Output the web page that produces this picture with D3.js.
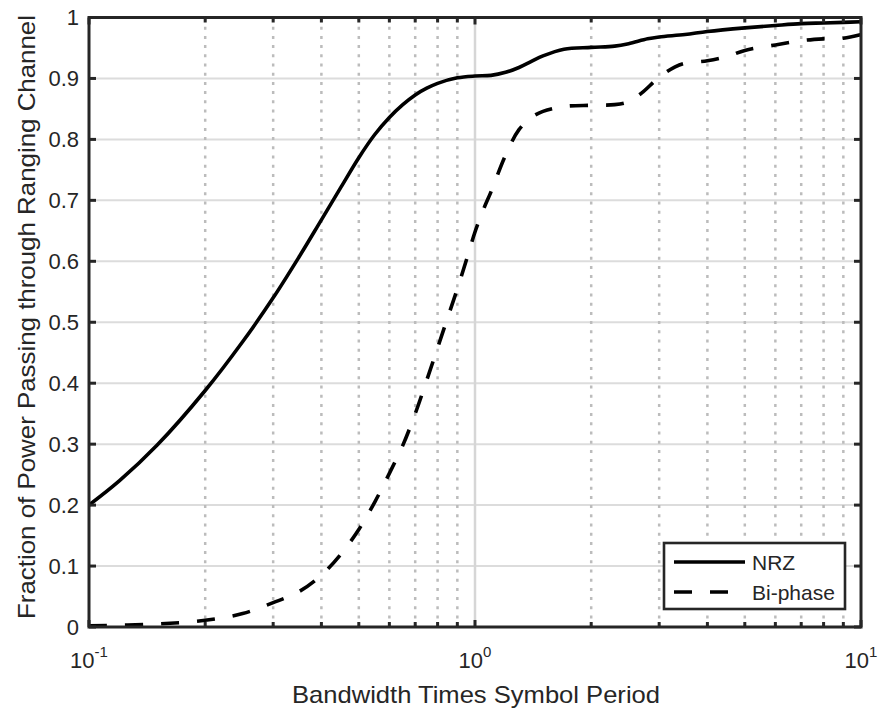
<!DOCTYPE html>
<html>
<head>
<meta charset="utf-8">
<script src="https://cdn.jsdelivr.net/npm/d3@7"></script>
<style>
  html, body { margin: 0; padding: 0; background: #fff; }
  svg { display: block; font-family: "Liberation Sans", Arial, Helvetica, sans-serif; }
</style>
</head>
<body>
<svg id="chart" width="881" height="711"></svg>
<script>
// Bandwidth-time product (B·T) sample points and power fractions
const nrzBT = [0.1, 0.12, 0.15, 0.2, 0.25, 0.3, 0.35, 0.4, 0.45, 0.5, 0.55, 0.6, 0.65, 0.7, 0.75, 0.8, 0.9, 1.0,
               1.1, 1.2, 1.3, 1.4, 1.5, 1.7, 2.0, 2.3, 2.5, 2.8, 3.0, 3.5, 4, 5, 6, 7, 8, 9, 10];
const nrzFrac = [0.200, 0.240, 0.298, 0.388, 0.468, 0.540, 0.607, 0.668, 0.722, 0.770, 0.808, 0.836, 0.857, 0.873, 0.884, 0.892, 0.901, 0.904,
                 0.905, 0.910, 0.918, 0.928, 0.937, 0.948, 0.951, 0.953, 0.957, 0.965, 0.968, 0.972, 0.977, 0.983, 0.987, 0.990, 0.991, 0.992, 0.993];

const biBT = [0.1, 0.15, 0.2, 0.25, 0.3, 0.35, 0.4, 0.45, 0.5, 0.55, 0.6, 0.65, 0.7, 0.75, 0.8, 0.85, 0.9, 0.95, 1.0,
              1.05, 1.1, 1.2, 1.3, 1.4, 1.5, 1.7, 2.0, 2.3, 2.5, 2.7, 3.0, 3.3, 3.5, 4, 4.5, 5, 6, 7, 8, 9, 10];
const biFrac = [0.002, 0.005, 0.011, 0.022, 0.040, 0.058, 0.085, 0.120, 0.160, 0.205, 0.252, 0.298, 0.350, 0.405, 0.458, 0.508, 0.555, 0.602, 0.648,
                0.684, 0.714, 0.774, 0.816, 0.836, 0.846, 0.854, 0.856, 0.857, 0.862, 0.876, 0.902, 0.919, 0.925, 0.929, 0.936, 0.946, 0.955, 0.962, 0.965, 0.966, 0.972];

const yTicks = [0, 0.1, 0.2, 0.3, 0.4, 0.5, 0.6, 0.7, 0.8, 0.9, 1];
const yTickLabels = ["0", "0.1", "0.2", "0.3", "0.4", "0.5", "0.6", "0.7", "0.8", "0.9", "1"];
const xMajorTicks = [0.1, 1, 10];
const xMajorExponents = ["-1", "0", "1"];
const xMinorTicks = [0.2, 0.3, 0.4, 0.5, 0.6, 0.7, 0.8, 0.9, 2, 3, 4, 5, 6, 7, 8, 9];

const seriesNames = ["NRZ", "Bi-phase"];
const xTitle = "Bandwidth Times Symbol Period";
const yTitle = "Fraction of Power Passing through Ranging Channel";

// Layout
const plot = { left: 89, right: 861, top: 17.5, bottom: 627 };
const axisColor = "#262626";

const svg = d3.select("#chart");

const x = d3.scaleLog().domain([0.1, 10]).range([plot.left, plot.right]);
const y = d3.scaleLinear().domain([0, 1]).range([plot.bottom, plot.top]);

svg.append("rect").attr("x", 0).attr("y", 0).attr("width", 881).attr("height", 711).attr("fill", "#fff");

// Grid: solid major lines, dotted minor lines on the log axis
const grid = svg.append("g");
grid.selectAll("line.hgrid").data(yTicks.slice(1, -1)).join("line")
  .attr("x1", plot.left).attr("x2", plot.right)
  .attr("y1", d => y(d)).attr("y2", d => y(d))
  .attr("stroke", "#dcdcdc").attr("stroke-width", 2);
grid.selectAll("line.vminor").data(xMinorTicks).join("line")
  .attr("x1", d => x(d)).attr("x2", d => x(d))
  .attr("y1", plot.top).attr("y2", plot.bottom)
  .attr("stroke", "#bcbcbc").attr("stroke-width", 2.5)
  .attr("stroke-dasharray", "3,6.2");
grid.selectAll("line.vmajor").data([1]).join("line")
  .attr("x1", d => x(d)).attr("x2", d => x(d))
  .attr("y1", plot.top).attr("y2", plot.bottom)
  .attr("stroke", "#d6d6d6").attr("stroke-width", 2.5);

// Curves
svg.append("clipPath").attr("id", "plotClip").append("rect")
  .attr("x", plot.left).attr("y", plot.top)
  .attr("width", plot.right - plot.left).attr("height", plot.bottom - plot.top);

const line = d3.line().x(d => x(d[0])).y(d => y(d[1])).curve(d3.curveCatmullRom.alpha(0.5));
const curves = svg.append("g").attr("clip-path", "url(#plotClip)");
curves.append("path")
  .datum(nrzBT.map((b, i) => [b, nrzFrac[i]]))
  .attr("d", line).attr("fill", "none")
  .attr("stroke", "#000").attr("stroke-width", 3.6).attr("stroke-linejoin", "round");
curves.append("path")
  .datum(biBT.map((b, i) => [b, biFrac[i]]))
  .attr("d", line).attr("fill", "none")
  .attr("stroke", "#000").attr("stroke-width", 3.6)
  .attr("stroke-dasharray", "18,18");

// Axes box with inward ticks on all four sides
const axes = svg.append("g").attr("stroke", axisColor).attr("stroke-linecap", "butt");
const tickW = 3;
const yTickLen = 7, xMajLen = 7, xMinLen = 5;
yTicks.forEach(t => {
  axes.append("line").attr("x1", plot.left).attr("x2", plot.left + yTickLen)
    .attr("y1", y(t)).attr("y2", y(t)).attr("stroke-width", tickW);
  axes.append("line").attr("x1", plot.right).attr("x2", plot.right - yTickLen)
    .attr("y1", y(t)).attr("y2", y(t)).attr("stroke-width", tickW);
});
xMajorTicks.concat(xMinorTicks).forEach(t => {
  const len = xMajorTicks.includes(t) ? xMajLen : xMinLen;
  axes.append("line").attr("x1", x(t)).attr("x2", x(t))
    .attr("y1", plot.bottom).attr("y2", plot.bottom - len).attr("stroke-width", tickW);
  axes.append("line").attr("x1", x(t)).attr("x2", x(t))
    .attr("y1", plot.top).attr("y2", plot.top + len).attr("stroke-width", tickW);
});
axes.append("rect")
  .attr("x", plot.left).attr("y", plot.top)
  .attr("width", plot.right - plot.left).attr("height", plot.bottom - plot.top)
  .attr("fill", "none").attr("stroke-width", 3);

// Tick labels
const labels = svg.append("g").attr("fill", axisColor);
labels.selectAll("text.ylab").data(yTicks).join("text")
  .attr("x", plot.left - 10).attr("y", d => y(d)).attr("dy", "0.36em")
  .attr("text-anchor", "end").attr("font-size", 22)
  .text((d, i) => yTickLabels[i]);

xMajorTicks.forEach((t, i) => {
  const tx = labels.append("text")
    .attr("x", x(t)).attr("y", 668).attr("text-anchor", "middle").attr("font-size", 22);
  tx.append("tspan").text("10");
  tx.append("tspan").attr("dy", -11).attr("font-size", 15).text(xMajorExponents[i]);
});

// Axis titles
svg.append("text")
  .attr("x", 476).attr("y", 703)
  .attr("text-anchor", "middle").attr("font-size", 24).attr("fill", axisColor)
  .attr("textLength", 368).attr("lengthAdjust", "spacingAndGlyphs")
  .text(xTitle);
svg.append("text")
  .attr("transform", "translate(35, 317) rotate(-90)")
  .attr("text-anchor", "middle").attr("font-size", 24).attr("fill", axisColor)
  .attr("textLength", 604).attr("lengthAdjust", "spacingAndGlyphs")
  .text(yTitle);

// Legend
const legend = svg.append("g");
legend.append("rect").attr("x", 664).attr("y", 543).attr("width", 181).attr("height", 66)
  .attr("fill", "#fff").attr("stroke", axisColor).attr("stroke-width", 2.6);
const legendDash = [null, "18,18"];
seriesNames.forEach((name, i) => {
  const ly = 562 + i * 30;
  legend.append("line").attr("x1", 674).attr("x2", 745).attr("y1", ly).attr("y2", ly)
    .attr("stroke", "#000").attr("stroke-width", 3.6)
    .attr("stroke-dasharray", legendDash[i]);
  legend.append("text").attr("x", 752).attr("y", ly).attr("dy", "0.36em")
    .attr("font-size", 21).attr("fill", axisColor).text(name);
});
</script>
</body>
</html>
